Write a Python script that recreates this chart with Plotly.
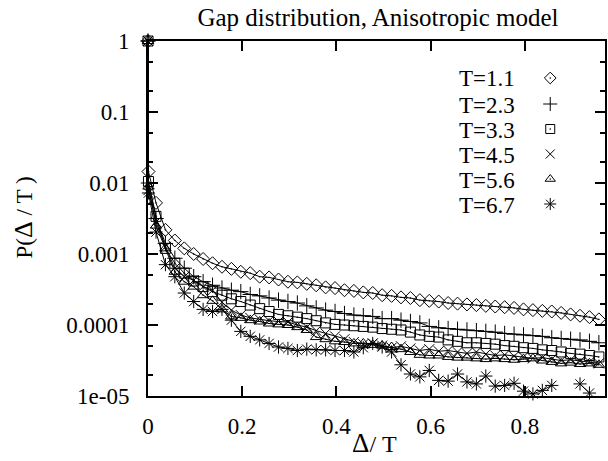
import plotly.graph_objects as go

# Delta/T bin positions (first entry is the Delta/T = 0 bin with P = 1)
x_vals = [0.0, 0.001, 0.017, 0.037, 0.057, 0.077, 0.097, 0.117, 0.137, 0.157, 0.177,
          0.197, 0.217, 0.237, 0.257, 0.277, 0.297, 0.317, 0.337, 0.357, 0.377,
          0.397, 0.417, 0.437, 0.457, 0.477, 0.497, 0.517, 0.537, 0.557, 0.577,
          0.597, 0.617, 0.637, 0.657, 0.677, 0.697, 0.717, 0.737, 0.757, 0.777,
          0.797, 0.817, 0.837, 0.857, 0.877, 0.897, 0.917, 0.937, 0.957]

p_T11 = [1.0, 1.45e-2, 5.25e-3, 2.19e-3, 1.55e-3, 1.20e-3, 1.00e-3, 8.51e-4, 7.41e-4, 6.61e-4, 6.17e-4,
         5.62e-4, 5.37e-4, 4.79e-4, 4.68e-4, 4.37e-4, 4.07e-4, 3.98e-4, 3.80e-4, 3.63e-4, 3.39e-4,
         3.31e-4, 3.09e-4, 3.02e-4, 2.88e-4, 2.82e-4, 2.63e-4, 2.57e-4, 2.45e-4, 2.40e-4, 2.24e-4,
         2.19e-4, 2.14e-4, 2.04e-4, 2.00e-4, 1.95e-4, 1.91e-4, 1.86e-4, 1.82e-4, 1.78e-4, 1.74e-4,
         1.66e-4, 1.62e-4, 1.58e-4, 1.55e-4, 1.48e-4, 1.41e-4, 1.35e-4, 1.29e-4, 1.20e-4]

p_T23 = [1.0, 1.00e-2, 3.16e-3, 1.41e-3, 8.71e-4, 6.31e-4, 4.79e-4, 4.07e-4, 3.63e-4, 3.31e-4, 3.09e-4,
         2.95e-4, 2.69e-4, 2.57e-4, 2.40e-4, 2.24e-4, 2.14e-4, 2.04e-4, 1.86e-4, 1.74e-4, 1.62e-4,
         1.55e-4, 1.45e-4, 1.38e-4, 1.35e-4, 1.32e-4, 1.23e-4, 1.23e-4, 1.17e-4, 1.12e-4, 1.07e-4,
         9.55e-5, 9.12e-5, 8.91e-5, 8.71e-5, 8.51e-5, 8.32e-5, 8.13e-5, 7.94e-5, 7.59e-5, 7.41e-5,
         7.24e-5, 7.08e-5, 6.92e-5, 6.61e-5, 6.46e-5, 6.31e-5, 6.17e-5, 5.89e-5, 5.62e-5]

p_T33 = [1.0, 1.05e-2, 3.39e-3, 1.20e-3, 7.41e-4, 5.37e-4, 4.17e-4, 3.47e-4, 2.95e-4, 2.63e-4, 2.34e-4,
         2.14e-4, 1.91e-4, 1.70e-4, 1.55e-4, 1.41e-4, 1.35e-4, 1.29e-4, 1.23e-4, 1.15e-4, 1.07e-4,
         1.02e-4, 1.00e-4, 9.77e-5, 9.55e-5, 9.33e-5, 8.91e-5, 8.71e-5, 8.51e-5, 7.94e-5, 7.24e-5,
         6.92e-5, 6.76e-5, 6.17e-5, 5.89e-5, 5.62e-5, 5.62e-5, 5.50e-5, 5.37e-5, 5.13e-5, 5.01e-5,
         4.79e-5, 4.68e-5, 4.47e-5, 4.37e-5, 4.17e-5, 3.98e-5, 3.89e-5, 3.72e-5, 3.55e-5]

p_T45 = [1.0, 7.94e-3, 2.82e-3, 1.26e-3, 6.31e-4, 4.79e-4, 4.27e-4, 3.47e-4, 3.09e-4, 2.09e-4, 1.62e-4,
         1.38e-4, 1.26e-4, 1.20e-4, 1.15e-4, 1.12e-4, 1.10e-4, 1.00e-4, 9.33e-5, 8.32e-5, 7.59e-5,
         6.92e-5, 6.31e-5, 5.75e-5, 5.37e-5, 5.50e-5, 5.13e-5, 4.79e-5, 5.01e-5, 4.68e-5, 4.37e-5,
         4.57e-5, 4.27e-5, 4.37e-5, 4.17e-5, 3.98e-5, 4.17e-5, 3.89e-5, 3.72e-5, 3.80e-5, 3.63e-5,
         3.55e-5, 3.39e-5, 3.47e-5, 3.31e-5, 3.16e-5, 3.24e-5, 3.09e-5, 3.02e-5, 2.88e-5]

p_T56 = [1.0, 8.91e-3, 2.51e-3, 1.20e-3, 5.62e-4, 4.07e-4, 3.47e-4, 2.63e-4, 2.19e-4, 1.66e-4, 1.32e-4,
         1.26e-4, 1.17e-4, 1.12e-4, 1.05e-4, 1.02e-4, 1.00e-4, 9.33e-5, 8.51e-5, 6.76e-5, 6.31e-5,
         5.89e-5, 5.75e-5, 5.50e-5, 5.50e-5, 5.25e-5, 5.13e-5, 4.90e-5, 4.57e-5, 4.17e-5, 3.80e-5,
         3.72e-5, 3.72e-5, 3.55e-5, 3.47e-5, 3.47e-5, 3.39e-5, 3.31e-5, 3.39e-5, 3.31e-5, 3.24e-5,
         3.31e-5, 3.39e-5, 3.16e-5, 3.02e-5, 2.88e-5, 2.95e-5, 2.82e-5, 2.88e-5, 2.75e-5]

p_T67 = [1.0, 7.24e-3, 2.04e-3, 7.08e-4, 4.79e-4, 2.82e-4, 2.14e-4, 1.66e-4, 1.55e-4, 1.66e-4, 1.17e-4,
         8.13e-5, 6.92e-5, 6.17e-5, 5.50e-5, 4.90e-5, 4.68e-5, 4.37e-5, 4.57e-5, 4.47e-5, 4.47e-5,
         4.37e-5, 4.37e-5, 4.17e-5, 4.79e-5, 5.50e-5, 4.90e-5, 4.17e-5, 2.75e-5, 2.04e-5, 1.86e-5,
         2.29e-5, 1.66e-5, 1.62e-5, 2.04e-5, 1.58e-5, 1.48e-5, 1.91e-5, 1.38e-5, 1.41e-5, 1.51e-5,
         1.17e-5, 1.07e-5, 1.20e-5, 1.41e-5, None, None, 1.48e-5, 1.10e-5, None]

labels = ["T=1.1", "T=2.3", "T=3.3", "T=4.5", "T=5.6", "T=6.7"]
series = [p_T11, p_T23, p_T33, p_T45, p_T56, p_T67]
symbols = ["diamond-open-dot", "cross-thin-open", "square-open-dot",
           "x-thin-open", "triangle-up-open-dot", "asterisk-open"]
sizes = [10, 11, 10, 10, 10, 11]

y_tickvals = [1, 0.1, 0.01, 0.001, 0.0001, 0.00001]
y_ticktext = ["1", "0.1", "0.01", "0.001", "0.0001", "1e-05"]
x_tickvals = [0, 0.2, 0.4, 0.6, 0.8]
x_ticktext = ["0", "0.2", "0.4", "0.6", "0.8"]

FONT = "Liberation Serif"
W, H = 608, 461
L, R, T, B = 148, 1, 41, 65
pw, ph = W - L - R, H - T - B


def px2paper(px, py):
    return (px - L) / pw, (H - B - py) / ph


fig = go.Figure()
for lab, ys, sym, sz in zip(labels, series, symbols, sizes):
    fig.add_trace(go.Scatter(
        x=x_vals, y=ys, mode="lines+markers", name=lab, cliponaxis=False,
        connectgaps=False,
        line=dict(color="black", width=1),
        marker=dict(symbol=sym, size=sz, color="black",
                    line=dict(color="black", width=1)),
        showlegend=False))

# legend (text left, symbol right) drawn in a fixed overlay coordinate system
leg_rows_py = [78, 104, 129, 154, 179, 204]
for lab, sym, sz, py in zip(labels, symbols, sizes, leg_rows_py):
    xp, yp = px2paper(552, py)
    fig.add_trace(go.Scatter(
        x=[xp], y=[yp], xaxis="x2", yaxis="y2", mode="markers", showlegend=False,
        cliponaxis=False,
        marker=dict(symbol=sym, size=sz - 1, color="black",
                    line=dict(color="black", width=1))))
    tx, ty = px2paper(519, py + 1)
    fig.add_annotation(x=tx, y=ty, xref="paper", yref="paper", text=lab,
                       showarrow=False, xanchor="right", yanchor="middle",
                       font=dict(family=FONT, size=23, color="black"))

axis_common = dict(showline=True, linecolor="black", linewidth=2, mirror="ticks",
                   ticks="inside", ticklen=10, tickwidth=1.5, tickcolor="black",
                   showgrid=False, zeroline=False,
                   tickfont=dict(family=FONT, size=23, color="black"))

fig.update_layout(
    width=W, height=H,
    margin=dict(l=L, r=R, t=T, b=B),
    paper_bgcolor="white", plot_bgcolor="white",
    title=dict(text="Gap distribution, Anisotropic model", x=378 / W, y=1 - 17 / H,
               xanchor="center", yanchor="middle",
               font=dict(family=FONT, size=25, color="black")),
    xaxis=dict(range=[0, 0.97], tickvals=x_tickvals, ticktext=x_ticktext,
               ticklabelstandoff=8, **axis_common),
    yaxis=dict(type="log", range=[-5, 0], tickvals=y_tickvals, ticktext=y_ticktext,
               ticklabelstandoff=12,
               minor=dict(ticks="inside", ticklen=5, tickcolor="black", dtick="D2",
                          showgrid=False),
               **axis_common),
    xaxis2=dict(overlaying="x", range=[0, 1], visible=False, fixedrange=True),
    yaxis2=dict(overlaying="y", range=[0, 1], visible=False, fixedrange=True),
)

xt, yt = px2paper(375, 443)
fig.add_annotation(x=xt, y=yt, xref="paper", yref="paper",
                   text='<span style="font-size:27px">Δ</span>/ T',
                   showarrow=False, xanchor="center", yanchor="middle",
                   font=dict(family=FONT, size=24, color="black"))
xy, yy = px2paper(22, 218)
fig.add_annotation(x=xy, y=yy, xref="paper", yref="paper",
                   text='P(<span style="font-size:26px">Δ</span> / T )', textangle=-90,
                   showarrow=False, xanchor="center", yanchor="middle",
                   font=dict(family=FONT, size=23, color="black"))

fig.write_html("out.html")
